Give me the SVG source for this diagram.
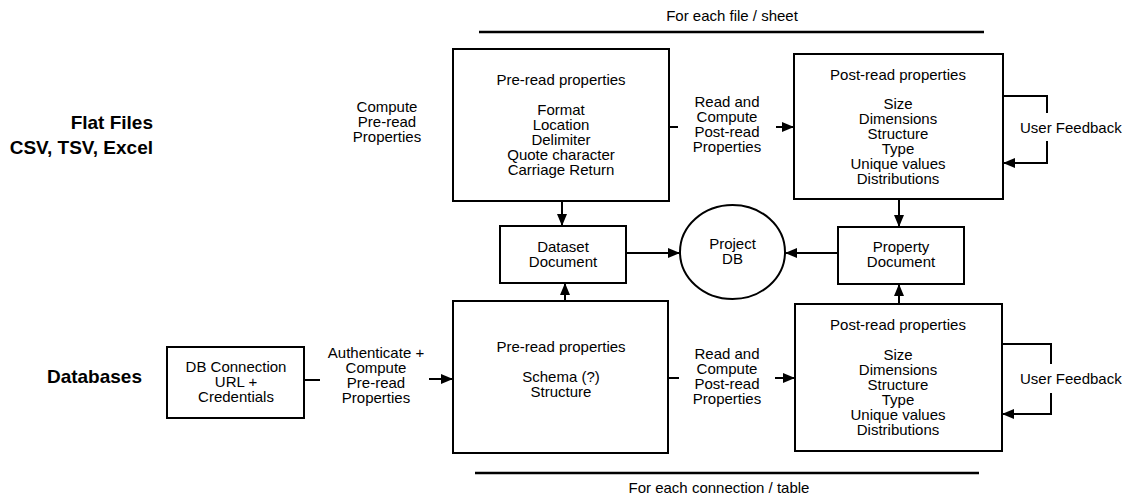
<svg xmlns="http://www.w3.org/2000/svg" width="1123" height="498" viewBox="0 0 1123 498">
<style>
text{font-family:"Liberation Sans",Arial,sans-serif;font-size:15px;fill:#000;text-anchor:middle}
.big{font-size:19px;font-weight:bold;text-anchor:end}
.box{fill:#fff;stroke:#000;stroke-width:2}
.ln{fill:none;stroke:#000;stroke-width:2}
.bar{fill:none;stroke:#000;stroke-width:2.5}
.lbl{text-anchor:start}
</style>
<defs>
<marker id="ah" viewBox="0 0 12 10" refX="12" refY="5" markerWidth="12" markerHeight="10" markerUnits="userSpaceOnUse" orient="auto">
<path d="M0,0 L12,5 L0,10 z" fill="#000"/>
</marker>
</defs>
<rect width="1123" height="498" fill="#fff"/>

<g id="headers">
<text x="732" y="21">For each file / sheet</text>
<line class="bar" x1="479" y1="32" x2="984" y2="32"/>
<line class="bar" x1="475" y1="473" x2="979" y2="473"/>
<text x="719" y="493">For each connection / table</text>
<text class="big" x="153" y="129">Flat Files</text>
<text class="big" x="153" y="154">CSV, TSV, Excel</text>
<text class="big" x="142" y="383">Databases</text>
</g>

<g id="connectors">
<line class="ln" x1="562" y1="201" x2="562" y2="226" marker-end="url(#ah)"/>
<line class="ln" x1="565" y1="301" x2="565" y2="283" marker-end="url(#ah)"/>
<line class="ln" x1="626" y1="253" x2="680" y2="253" marker-end="url(#ah)"/>
<line class="ln" x1="838" y1="253" x2="785" y2="253" marker-end="url(#ah)"/>
<line class="ln" x1="899" y1="199" x2="899" y2="227" marker-end="url(#ah)"/>
<line class="ln" x1="899" y1="304" x2="899" y2="284" marker-end="url(#ah)"/>
<!-- top read/compute -->
<line class="ln" x1="669" y1="127" x2="678" y2="127"/>
<line class="ln" x1="776" y1="127" x2="794" y2="127" marker-end="url(#ah)"/>
<!-- bottom read/compute -->
<line class="ln" x1="668" y1="378" x2="679" y2="378"/>
<line class="ln" x1="775" y1="378" x2="795" y2="378" marker-end="url(#ah)"/>
<!-- authenticate -->
<line class="ln" x1="304" y1="380" x2="320" y2="380"/>
<line class="ln" x1="429" y1="379" x2="453" y2="379" marker-end="url(#ah)"/>
<!-- user feedback top -->
<polyline class="ln" points="1003,96 1047,96 1047,113"/>
<polyline class="ln" points="1047,141 1047,163 1003,163" marker-end="url(#ah)"/>
<!-- user feedback bottom -->
<polyline class="ln" points="1002,344 1051,344 1051,364"/>
<polyline class="ln" points="1051,393 1051,414 1002,414" marker-end="url(#ah)"/>
<text x="387" y="112">Compute</text>
<text x="387" y="127">Pre-read</text>
<text x="387" y="142">Properties</text>
<text x="727" y="107">Read and</text>
<text x="727" y="122">Compute</text>
<text x="727" y="137">Post-read</text>
<text x="727" y="152">Properties</text>
<text x="727" y="359">Read and</text>
<text x="727" y="374">Compute</text>
<text x="727" y="389">Post-read</text>
<text x="727" y="404">Properties</text>
<text x="376" y="358">Authenticate +</text>
<text x="376" y="373">Compute</text>
<text x="376" y="388">Pre-read</text>
<text x="376" y="403">Properties</text>
<text class="lbl" x="1020" y="133">User Feedback</text>
<text class="lbl" x="1020" y="384">User Feedback</text>
</g>

<g id="preread-files">
<rect class="box" x="453" y="49" width="216" height="152"/>
<text x="561" y="85">Pre-read properties</text>
<text x="561" y="115">Format</text>
<text x="561" y="130">Location</text>
<text x="561" y="145">Delimiter</text>
<text x="561" y="160">Quote character</text>
<text x="561" y="175">Carriage Return</text>
</g>

<g id="postread-files">
<rect class="box" x="794" y="54" width="209" height="145"/>
<text x="898" y="80">Post-read properties</text>
<text x="898" y="109">Size</text>
<text x="898" y="124">Dimensions</text>
<text x="898" y="139">Structure</text>
<text x="898" y="154">Type</text>
<text x="898" y="169">Unique values</text>
<text x="898" y="184">Distributions</text>
</g>

<g id="dataset-document">
<rect class="box" x="500" y="226" width="126" height="57"/>
<text x="563" y="252">Dataset</text>
<text x="563" y="267">Document</text>
</g>

<g id="project-db">
<ellipse class="box" cx="732.5" cy="252" rx="52.5" ry="47"/>
<text x="732.5" y="249">Project</text>
<text x="732.5" y="264">DB</text>
</g>

<g id="property-document">
<rect class="box" x="838" y="227" width="126" height="57"/>
<text x="901" y="252">Property</text>
<text x="901" y="267">Document</text>
</g>

<g id="db-connection">
<rect class="box" x="167" y="347" width="137" height="71"/>
<text x="236" y="372">DB Connection</text>
<text x="236" y="387">URL +</text>
<text x="236" y="402">Credentials</text>
</g>

<g id="preread-db">
<rect class="box" x="453" y="301" width="215" height="152"/>
<text x="561" y="352">Pre-read properties</text>
<text x="561" y="382">Schema (?)</text>
<text x="561" y="397">Structure</text>
</g>

<g id="postread-db">
<rect class="box" x="795" y="304" width="207" height="147"/>
<text x="898" y="330">Post-read properties</text>
<text x="898" y="360">Size</text>
<text x="898" y="375">Dimensions</text>
<text x="898" y="390">Structure</text>
<text x="898" y="405">Type</text>
<text x="898" y="420">Unique values</text>
<text x="898" y="435">Distributions</text>
</g>
</svg>
